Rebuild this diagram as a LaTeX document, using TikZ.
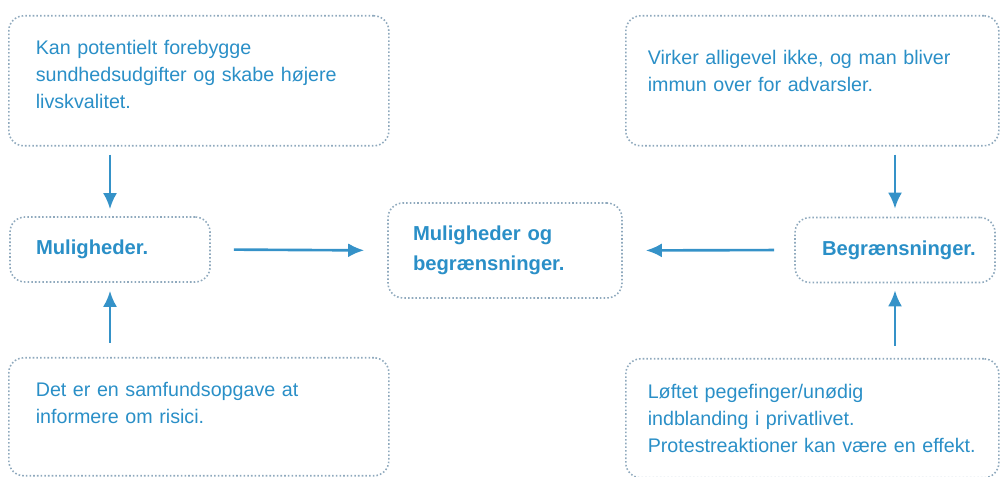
\documentclass[tikz,border=0pt]{standalone}
\usepackage{fontspec}
\setmainfont{Liberation Sans}
\usetikzlibrary{arrows.meta}
\definecolor{txtblue}{HTML}{2A8FC7}
\definecolor{arrblue}{HTML}{3592C8}
\definecolor{dotgray}{HTML}{8FA9BD}
\begin{document}
\begin{tikzpicture}
			\tikzstyle{box} = [draw=dotgray,line width=0.9pt,dash pattern=on 0.9pt off 1.2pt,rounded corners=0.3cm,text=txtblue,align=left,inner ysep=0pt];
			\tikzstyle{txt} = [box,anchor=north west,font=\fontsize{11.2}{15.2}\selectfont];
			\tikzstyle{bold} = [box,font=\fontsize{11.5}{17}\selectfont\bfseries];
			\tikzstyle{arr} = [arrblue,line width=1.5pt,-{Latex[length=0.32cm,width=0.28cm]}];
			\useasboundingbox (0,0) rectangle (20,-9.54);
			
			\node[txt,inner xsep=0.54cm,text width=6.52cm,text height=0.78cm,text depth=1.82cm](kan)at(0.16,-0.3){Kan potentielt forebygge\\sundhedsudgifter og skabe højere\\livskvalitet.};
			\node[txt,inner xsep=0.44cm,text width=6.58cm,text height=0.98cm,text depth=1.62cm](virker)at(12.5,-0.3){Virker alligevel ikke, og man bliver\\immun over for advarsler.};
			\node[txt,inner xsep=0.54cm,text width=6.52cm,text height=0.78cm,text depth=1.58cm](samfund)at(0.16,-7.14){Det er en samfundsopgave at\\informere om risici.};
			\node[txt,inner xsep=0.44cm,text width=6.58cm,text height=0.8cm,text depth=1.58cm](loftet)at(12.5,-7.16){Løftet pegefinger/unødig\\indblanding i privatlivet.\\Protestreaktioner kan være en effekt.};
			
			\node[bold,inner xsep=0.52cm,text width=2.96cm,minimum height=1.3cm](mulig)at(2.2,-4.99){Muligheder.};
			\node[bold,inner xsep=0.54cm,text width=2.92cm,minimum height=1.3cm](begr)at(17.9,-5){Begrænsninger.};
			\node[bold,inner xsep=0.5cm,text width=3.68cm,minimum height=1.9cm](both)at(10.1,-5.01){Muligheder og\\begrænsninger.};
			
			\draw[arr,shorten <=0.16cm,shorten >=0.14cm] (kan.south -| mulig.north) -- (mulig.north);
			\draw[arr,shorten <=0.28cm,shorten >=0.16cm] (samfund.north -| mulig.south) -- (mulig.south);
			\draw[arr,shorten <=0.16cm,shorten >=0.16cm] (virker.south -| begr.north) -- (begr.north);
			\draw[arr,shorten <=0.24cm,shorten >=0.14cm] (loftet.north -| begr.south) -- (begr.south);
			\draw[arr,shorten <=0.46cm,shorten >=0.46cm] (mulig.east) -- (both.west);
			\draw[arr,shorten <=0.4cm,shorten >=0.46cm] (begr.west) -- (both.east);
			\end{tikzpicture}
\end{document}
